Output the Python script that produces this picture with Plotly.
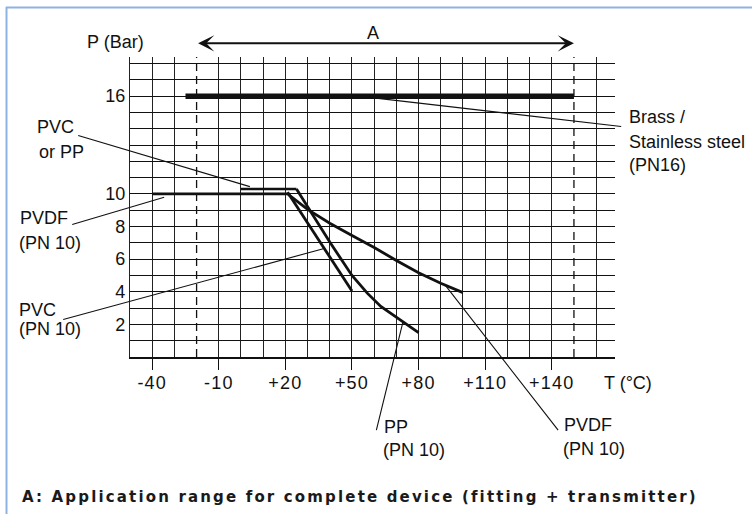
import numpy as np
import plotly.graph_objects as go

# ---------------- data ----------------
x_tickvals = [-40, -10, 20, 50, 80, 110, 140]
x_ticktext = ["-40", "-10", "+20", "+50", "+80", "+110", "+140"]
y_tickvals = [2, 4, 6, 8, 10, 16]
y_ticktext = ["2", "4", "6", "8", "10", "16"]

range_A = [-20, 150]                       # application range (dashed limits)

brass_T = [-25, 150]
brass_P = [16, 16]

pvdf_T = [-40, 21, 30, 40, 50, 60, 70, 80, 90, 100]
pvdf_P = [10, 10, 9.05, 8.2, 7.45, 6.72, 5.92, 5.17, 4.52, 3.95]

pvcpp_T = [0, 25]
pvcpp_P = [10.3, 10.3]

pp_T = [25, 40, 50, 57, 63, 70, 80]
pp_P = [10.3, 7.05, 5.0, 3.9, 3.1, 2.45, 1.5]

pvc_T = [21, 50]
pvc_P = [10.1, 4.05]

# ---------------- layout helpers ----------------
W, H = 752, 514
ML, MR, MT, MB = 130, 137, 57, 157
PW, PH = W - ML - MR, H - MT - MB
X0, X1 = -50, 168.5
Y0, Y1 = 0, 18.4


def xp(px):          # pixel -> paper
    return (px - ML) / PW


def yp(py):
    return (H - MB - py) / PH


def tx_px(t):        # data -> pixel
    return ML + (t - X0) / (X1 - X0) * PW


def ty_px(p):
    return H - MB - (p - Y0) / (Y1 - Y0) * PH


FONT = "Liberation Sans, Arial, sans-serif"
BLACK = "#111111"

fig = go.Figure()

for t in range_A:
    fig.add_trace(go.Scatter(x=[t, t], y=[Y0, Y1], mode="lines",
                             line=dict(color=BLACK, width=1.3, dash="8px,5px"),
                             hoverinfo="skip", showlegend=False))

fig.add_trace(go.Scatter(x=brass_T, y=brass_P, mode="lines",
                         line=dict(color=BLACK, width=5.5), showlegend=False))
fig.add_trace(go.Scatter(x=pvdf_T, y=pvdf_P, mode="lines",
                         line=dict(color=BLACK, width=2.8), showlegend=False))
fig.add_trace(go.Scatter(x=pvcpp_T, y=pvcpp_P, mode="lines",
                         line=dict(color=BLACK, width=2.6), showlegend=False))
fig.add_trace(go.Scatter(x=pp_T, y=pp_P, mode="lines",
                         line=dict(color=BLACK, width=2.8), showlegend=False))
fig.add_trace(go.Scatter(x=pvc_T, y=pvc_P, mode="lines",
                         line=dict(color=BLACK, width=2.8), showlegend=False))

annotations = []

# double arrow "A"
arrow_py = 43.3
annotations.append(dict(x=range_A[1], y=yp(arrow_py), xref="x", yref="paper",
                        ax=range_A[0], ay=0, axref="x", ayref="pixel", text="",
                        showarrow=True, arrowside="end+start",
                        arrowhead=3, startarrowhead=3, arrowsize=1.35, startarrowsize=1.35,
                        arrowwidth=2, arrowcolor=BLACK, standoff=0, startstandoff=0))
annotations.append(dict(x=xp(373), y=yp(33), xref="paper", yref="paper", text="A",
                        showarrow=False, xanchor="center", yanchor="middle",
                        font=dict(family=FONT, size=18, color=BLACK)))

# leader lines: (tail px, head data)
leaders = [
    ((622.7, 126.7), (53, brass_P[0])),
    ((76.7, 135.0), (4, pvcpp_P[0] + 0.15)),
    ((70.7, 225.0), (-34.6, pvdf_P[0] - 0.2)),
    ((61.7, 320.0), (37.5, float(np.interp(37.5, pvc_T, pvc_P)))),
    ((376.0, 431.7), (73, float(np.interp(73, pp_T, pp_P)))),
    ((559.3, 431.7), (92, float(np.interp(92, pvdf_T, pvdf_P)))),
]
for (tx, ty), (hx, hy) in leaders:
    hxp, hyp = tx_px(hx), ty_px(hy)
    annotations.append(dict(x=xp(hxp), y=yp(hyp), xref="paper", yref="paper",
                            ax=tx - hxp, ay=ty - hyp, axref="pixel", ayref="pixel",
                            text="", showarrow=True, arrowhead=0, arrowwidth=1.1,
                            arrowcolor=BLACK, standoff=0, startstandoff=0))

# text labels: (text, left px, centre px)
labels = [
    ("P (Bar)", 85, 42),
    ("T (°C)", 602, 383),
    ("Brass /", 627, 117),
    ("Stainless steel", 627, 142),
    ("(PN16)", 627, 165),
    ("PVC", 35, 127),
    ("or PP", 37, 152),
    ("PVDF", 18, 218),
    ("(PN 10)", 17, 243),
    ("PVC", 17, 310),
    ("(PN 10)", 17, 329),
    ("PP", 382, 427),
    ("(PN 10)", 381, 450),
    ("PVDF", 562, 425),
    ("(PN 10)", 561, 449),
]
for txt, lx, cy in labels:
    annotations.append(dict(x=xp(lx), y=yp(cy), xref="paper", yref="paper", text=txt,
                            showarrow=False, xanchor="left", yanchor="middle",
                            font=dict(family=FONT, size=18, color=BLACK)))

annotations.append(dict(x=xp(20), y=yp(497), xref="paper", yref="paper",
                        text="A: Application range for complete device (fitting + transmitter)",
                        showarrow=False, xanchor="left", yanchor="middle", align="left",
                        font=dict(family="DejaVu Sans, sans-serif", size=15,
                                  color="#1a1a1a", weight="bold")))

shapes = [
    dict(type="line", xref="paper", yref="paper", x0=xp(6), x1=xp(W), y0=yp(7.5), y1=yp(7.5),
         line=dict(color="#8db3e2", width=2)),
    dict(type="line", xref="paper", yref="paper", x0=xp(6.5), x1=xp(6.5), y0=yp(7), y1=yp(H),
         line=dict(color="#8db3e2", width=2)),
]

minor_x = [t for t in range(-50, 161, 10) if t not in range_A]

fig.update_layout(
    width=W, height=H,
    margin=dict(l=ML, r=MR, t=MT, b=MB, pad=0),
    paper_bgcolor="white", plot_bgcolor="white",
    showlegend=False,
    annotations=annotations, shapes=shapes,
    font=dict(family=FONT, size=18, color=BLACK),
    xaxis=dict(range=[X0, X1], tickmode="array", tickvals=x_tickvals, ticktext=x_ticktext,
               showgrid=False, ticks="outside", ticklen=11, tickwidth=1.4, tickcolor=BLACK,
               showline=True, linecolor=BLACK, linewidth=2.2, zeroline=False,
               tickfont=dict(family=FONT, size=18, color=BLACK), ticklabelstandoff=-3,
               minor=dict(tickmode="array", tickvals=minor_x, showgrid=True,
                          gridcolor="#222222", gridwidth=1.4, ticks=""),
               fixedrange=True),
    yaxis=dict(range=[Y0, Y1], tickmode="array", tickvals=y_tickvals, ticktext=y_ticktext,
               showgrid=True, gridcolor=BLACK, gridwidth=1.1, ticks="",
               showline=True, linecolor="#222222", linewidth=1.4, zeroline=False,
               tickfont=dict(family=FONT, size=18, color=BLACK), ticklabelstandoff=0,
               minor=dict(tickmode="array", tickvals=list(range(1, 19)), showgrid=True,
                          gridcolor=BLACK, gridwidth=1.1, ticks=""),
               fixedrange=True),
)

post = """
document.body.style.margin = '0px';
document.body.style.overflow = 'hidden';
var gd = document.getElementById('{plot_id}');
gd.querySelectorAll('text').forEach(function (t) {
  if (t.textContent.indexOf('Application range') >= 0) {
    var n = t.textContent.length;
    var len = t.getBBox().width;
    var sp = (675 - len) / n;
    if (sp > 0) { t.style.letterSpacing = sp.toFixed(2) + 'px'; }
  }
});
gd.querySelectorAll('.xtick text').forEach(function (t) {
  t.style.letterSpacing = '1.2px';
});
"""

fig.write_html("out.html", post_script=post, config={"displayModeBar": False})
